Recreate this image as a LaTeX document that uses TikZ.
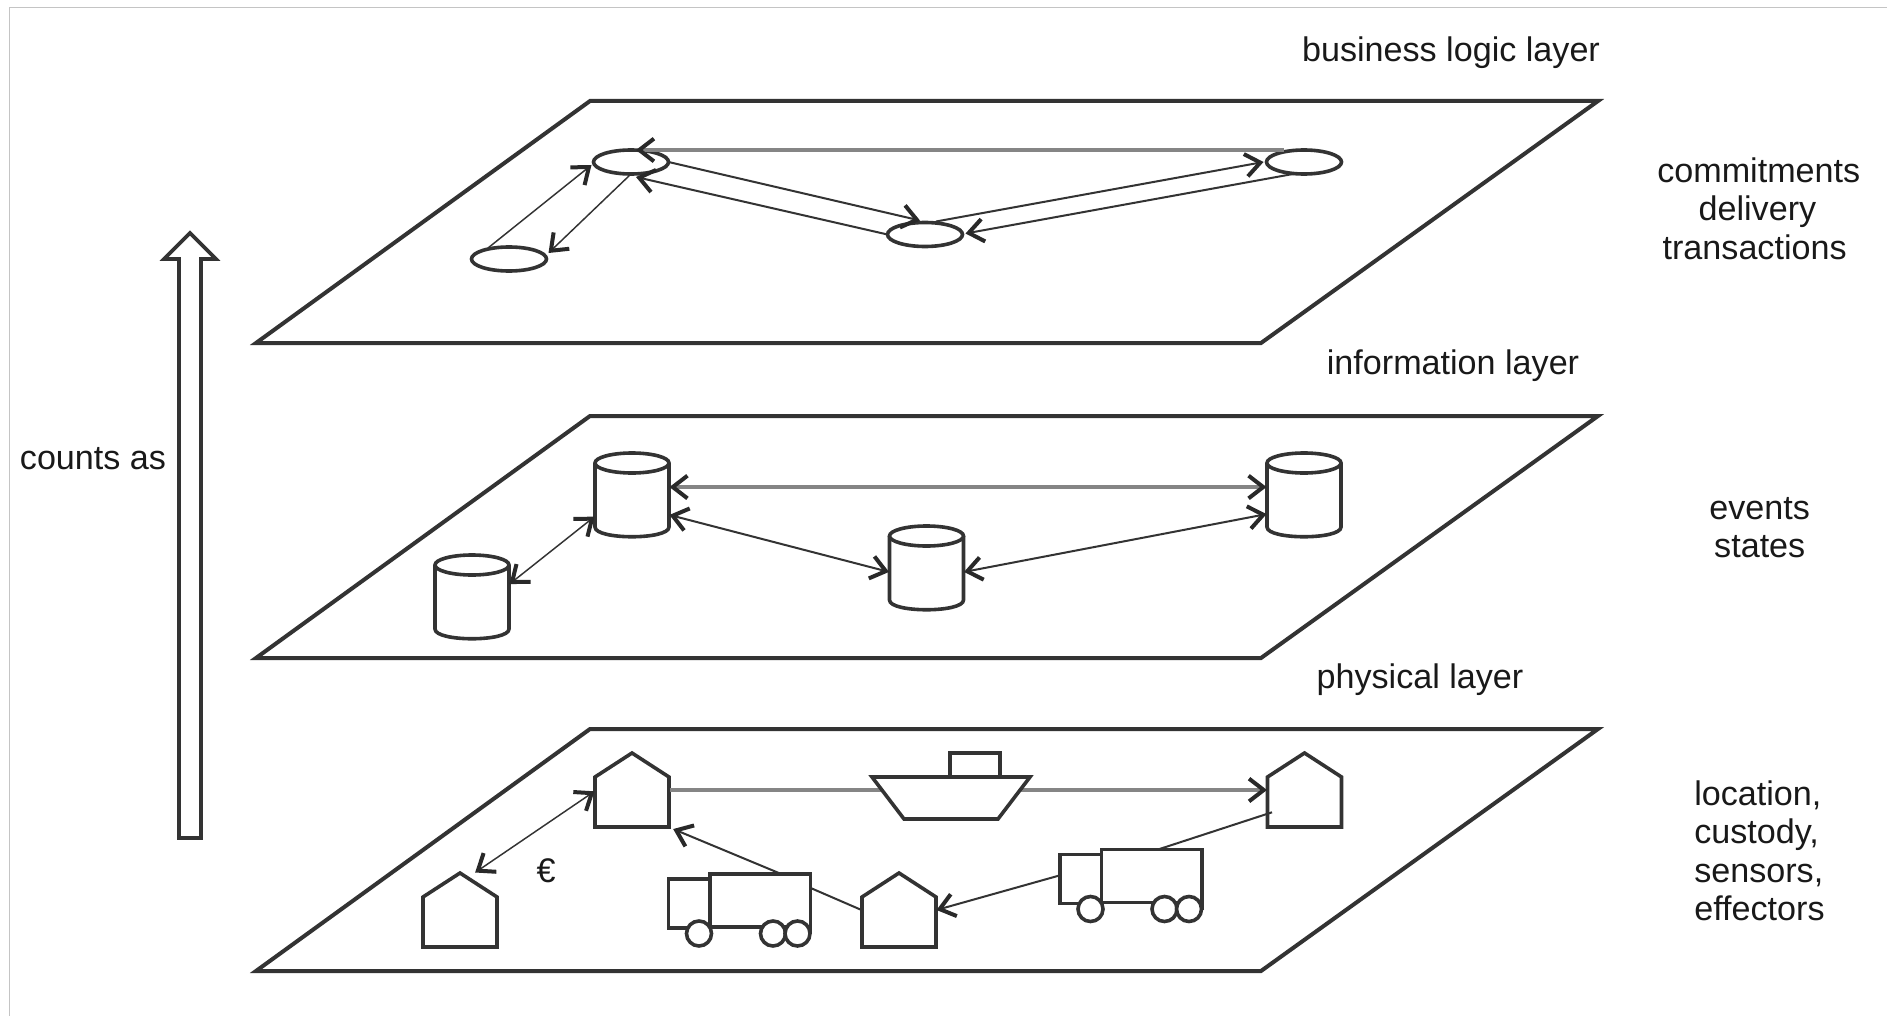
\documentclass[tikz,border=0pt]{standalone}
\usepackage{fontspec}
\setmainfont{Liberation Sans}
\usetikzlibrary{arrows.meta,shapes.geometric}
\definecolor{ink}{HTML}{333333}
\definecolor{linegray}{HTML}{858585}
\definecolor{framegray}{HTML}{C4C4C4}
\def\pxu{0.75pt}
\tikzset{
  >={Straight Barb[length=11pt,width=17pt,line width=3pt,color=ink!80!black]},
  sym/.style={draw=ink,line width=2.7pt,fill=white,line join=miter},
  plane/.style={draw=ink,line width=3pt,fill=white,line join=miter},
  conn/.style={draw=ink,line width=1.5pt},
  thinconn/.style={draw=ink,line width=1.1pt},
  grayconn/.style={draw=linegray,line width=2.7pt},
  anchorbox/.style={inner sep=0pt,outer sep=0pt,draw=none},
  oval/.style={ellipse,sym,inner sep=0pt,outer sep=0pt,minimum width=75*\pxu,minimum height=24*\pxu},
  lbl/.style={inner sep=0pt,text=black!90,font=\fontsize{25.6pt}{28.9pt}\selectfont},
}
\newcommand{\planeat}[1]{\draw[plane] (590,#1) -- (1598,#1) -- (1261,#1+242) -- (256,#1+242) -- cycle;}
\newcommand{\housenode}[3]{%
  \begin{scope}[shift={(#2,#3)}]
    \node[anchorbox,minimum width=75*\pxu,minimum height=75*\pxu] (#1) at (0,0) {};
    \draw[sym] (-37,37) -- (-37,-13) -- (0,-37) -- (37,-13) -- (37,37) -- cycle;
  \end{scope}}
\newcommand{\cylnode}[3]{%
  \begin{scope}[shift={(#2,#3)}]
    \node[anchorbox,minimum width=75*\pxu,minimum height=84*\pxu] (#1) at (0,0) {};
    \draw[sym] (-37,-32) -- (-37,32) .. controls (-37,45) and (37,45) .. (37,32) -- (37,-32);
    \draw[sym] (0,-32) ellipse [x radius=37,y radius=10];
  \end{scope}}
\newcommand{\trucknode}[3]{%
  \begin{scope}[shift={(#2,#3)}]
    \node[anchorbox,minimum width=143*\pxu,minimum height=73*\pxu] (#1) at (0,0) {};
    \draw[sym] (-71,-31) rectangle (-29.5,18);
    \draw[sym] (-29.5,18) -- (-29.5,-36) -- (71,-36) -- (71,24) (71,17) -- (-29.5,17);
    \foreach \wx in {-40.5,33.5,58}{\draw[sym] (\wx,23.5) circle [radius=12.5];}
  \end{scope}}
\begin{document}
\begin{tikzpicture}[x=\pxu,y=-\pxu]
\useasboundingbox (0,0) rectangle (1887,1016);
% frame
\draw[framegray,line width=1pt] (9.5,1016) -- (9.5,7.5) -- (1887,7.5);
% rising arrow
\draw[sym] (190,233) -- (216,259) -- (201,259) -- (201,838) -- (179,838) -- (179,259) -- (164,259) -- cycle;
\node[lbl] (countsas) at (93,459) {counts as};
% planes
\planeat{101}
\planeat{416}
\planeat{729}
% top layer
\node[oval] (tUL) at (631,162) {};
\node[oval] (tLL) at (509,259) {};
\node[oval] (tM) at (925,234.5) {};
\node[oval] (tR) at (1304,162) {};
\draw[grayconn,->] ([shift={(-20,0)}]tR.north) -- ([shift={(5,0)}]tUL.north);
\draw[conn,->] ([shift={(11,-1)}]tM.north) -- ([shift={(-3,0)}]tR.west);
\draw[conn,->] ([shift={(-11,0)}]tR.south) -- ([shift={(3,-1)}]tM.east);
\draw[conn,->] (tUL.east) -- ([shift={(-5,-2)}]tM.north);
\draw[conn,->] (tM.west) -- ([shift={(5,3)}]tUL.south);
\draw[thinconn,->] ([shift={(-21,1)}]tLL.north) -- ([shift={(-2,3)}]tUL.west);
\draw[thinconn,->] (tUL.south) -- ([shift={(2,-6)}]tLL.east);
% middle layer
\cylnode{cUL}{632}{495}
\cylnode{cLL}{472}{597}
\cylnode{cM}{926.5}{568}
\cylnode{cR}{1304}{495}
\draw[grayconn,<->] (cUL.12) -- (cR.168);
\draw[conn,<->] (cUL.-28) -- (cM.186);
\draw[conn,<->] (cM.-6) -- (cR.207);
\draw[thinconn,<->] (cUL.210) -- (cLL.19);
% bottom layer
\housenode{hUL}{632}{790}
\housenode{hLL}{460}{910}
\housenode{hM}{899}{910}
\housenode{hR}{1304.5}{790}
\trucknode{tkL}{739.5}{910}
\trucknode{tkR}{1131}{885.5}
\draw[grayconn,->] (hUL.east) -- (hR.west);
\begin{scope}
  \node[anchorbox,minimum width=158*\pxu,minimum height=66*\pxu] (ship) at (951,786) {};
  \draw[sym] (950,777) -- (950,753) -- (1000,753) -- (1000,777);
  \draw[sym] (872,777) -- (1030,777) -- (998,819) -- (904,819) -- cycle;
\end{scope}
\draw[thinconn,<->] (hUL.182) -- (hLL.68);
\draw[conn,->,shorten >=3pt] (tkL.42) -- (hUL.south east);
\draw[conn] (tkL.17) -- (hM.west);
\draw[conn] (tkR.52) -- ([shift={(5,-3)}]hR.214);
\draw[conn,->] (tkR.172) -- (hM.east);
% texts
\node[lbl] (euro) at (546,871) {€};
\node[lbl] (lbiz) at (1451,53) {business logic layer};
\node[lbl] (linfo) at (1453,366) {information layer};
\node[lbl] (lphys) at (1420,680) {physical layer};
\node[lbl,align=left,anchor=north west] (tcommit) at (1657,157) {commitments\\\hspace*{31pt}delivery\\\hspace*{4pt}transactions};
\node[lbl,align=left,anchor=north west] (tevents) at (1709,497) {events\\\hspace*{3.7pt}states};
\node[lbl,align=left,anchor=north west] (tloc) at (1694,780) {location,\\custody,\\sensors,\\effectors};
\end{tikzpicture}
\end{document}
